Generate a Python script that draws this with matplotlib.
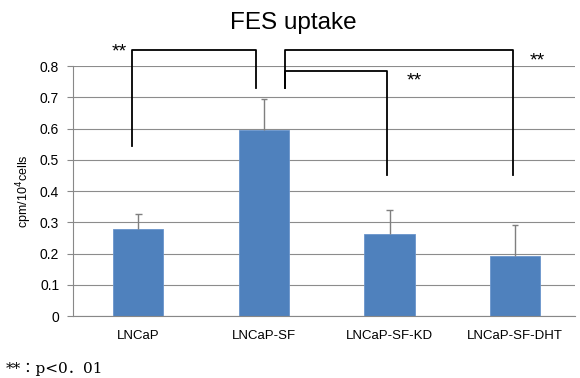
import matplotlib
matplotlib.use('Agg')
import matplotlib.pyplot as plt
import numpy as np

# FES uptake per cell line
groups = ['LNCaP', 'LNCaP-SF', 'LNCaP-SF-KD', 'LNCaP-SF-DHT']
uptake = [0.278, 0.596, 0.262, 0.193]
sd = [0.049, 0.100, 0.078, 0.098]
yticks = [0, 0.1, 0.2, 0.3, 0.4, 0.5, 0.6, 0.7, 0.8]

# significance brackets: (x_left, y_left_end, x_right, y_right_end, y_top)
brackets = [
	(-0.03, 0.544, 0.96, 0.73, 0.851),
	(1.19, 0.73, 3.0, 0.45, 0.851),
	(1.19, 0.73, 2.0, 0.45, 0.784),
]
stars = [(-0.13, 0.846), (3.2, 0.816), (2.22, 0.753)]

plt.rcParams['font.family'] = ['Liberation Sans', 'DejaVu Sans']

fig = plt.figure(figsize=(5.8, 3.78), dpi=100)
ax = fig.add_axes([0.126, 0.164, 0.866, 0.661])

x = np.arange(len(groups))
ax.bar(x + 0.02, uptake, width=0.4, color='#4F81BD', edgecolor='#6a95cc',
	linewidth=0.6, zorder=2)
# upper error bars only
tops = np.array(uptake) + np.array(sd)
ax.vlines(x + 0.02, uptake, tops, color='#7f7f7f', lw=1, zorder=3)
ax.hlines(tops, x + 0.02 - 0.025, x + 0.02 + 0.025, color='#7f7f7f', lw=1, zorder=3)

ax.set_xlim(-0.5, 3.5)
ax.set_ylim(0, 0.8)
ax.set_yticks(yticks)
ax.set_yticklabels(['0'] + ['%.1f' % v for v in yticks[1:]], fontsize=10)
ax.set_xticks(x + 0.02)
ax.set_xticklabels(groups, fontsize=9.5)
ax.tick_params(axis='x', length=0, pad=10)
ax.tick_params(axis='y', length=4, color='#888888', pad=6)
ax.yaxis.grid(True, color='#8c8c8c', linewidth=0.8, zorder=0)
ax.set_axisbelow(True)
for s in ['top', 'right']:
	ax.spines[s].set_visible(False)
for s in ['left', 'bottom']:
	ax.spines[s].set_color('#888888')

ax.set_ylabel('cpm/10$^4$cells', fontsize=9)
fig.text(0.505, 0.94, 'FES uptake', ha='center', va='center', fontsize=17.5)

for xl, yl, xr, yr, top in brackets:
	ax.plot([xl, xl, xr, xr], [yl, top, top, yr], color='black', lw=1.3,
		clip_on=False, zorder=4)
for sx, sy in stars:
	ax.text(sx, sy, '**', ha='center', va='center', fontsize=14, clip_on=False)

fig.text(0.01, 0.025, '**：p<0．01', fontsize=11, ha='left', va='center',
	family=['DejaVu Serif', 'Noto Sans CJK JP'])

fig.savefig('out.png', dpi=100)
